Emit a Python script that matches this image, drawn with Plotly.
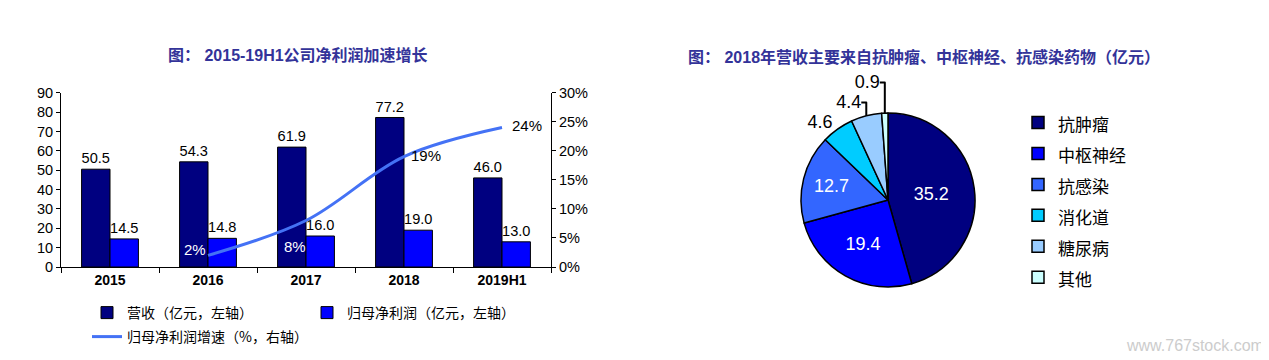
import plotly.graph_objects as go

# ---------------- data ----------------
years = ["2015", "2016", "2017", "2018", "2019H1"]
revenue = [50.5, 54.3, 61.9, 77.2, 46.0]
net_profit = [14.5, 14.8, 16.0, 19.0, 13.0]
growth_years = ["2016", "2017", "2018", "2019H1"]
growth_pct = [2, 8, 19, 24]

pie_labels = ["抗肿瘤", "中枢神经", "抗感染", "消化道", "糖尿病", "其他"]
pie_values = [35.2, 19.4, 12.7, 4.6, 4.4, 0.9]

left_ticks = [0, 10, 20, 30, 40, 50, 60, 70, 80, 90]
right_ticks = [0, 5, 10, 15, 20, 25, 30]
right_tick_text = ["0%", "5%", "10%", "15%", "20%", "25%", "30%"]

title_left = "图： 2015-19H1公司净利润加速增长"
title_right = "图： 2018年营收主要来自抗肿瘤、中枢神经、抗感染药物（亿元）"
name_rev = "营收（亿元，左轴）"
name_np = "归母净利润（亿元，左轴）"
name_gr = "归母净利润增速（%，右轴）"

# ---------------- style ----------------
W, H = 1269, 360
OFF = 8  # default body margin of the html page
FONT = "Arial, Liberation Sans, Noto Sans CJK SC, sans-serif"
CJK = "Noto Sans CJK SC, sans-serif"
TITLE_COLOR = "#333399"
pie_colors = ["#000080", "#0000FF", "#3366FF", "#00CCFF", "#99CCFF", "#CCFFFF"]

# label offsets (pixels) of the growth-rate labels relative to their points
growth_label_shift = [(-13, 6), (-11, -26), (22, 1), (25, 2)]
growth_label_color = ["white", "white", "black", "black"]


def px_x(p):
    return (p - OFF) / W


def px_y(p):
    return (H - (p - OFF)) / H


fig = go.Figure()

fig.add_trace(go.Bar(
    x=years, y=revenue, name=name_rev, legend="legend",
    marker=dict(color="#000080", line=dict(color="black", width=1)),
    texttemplate="%{y:.1f}", textposition="outside",
    textfont=dict(size=15, color="black", family=FONT),
    cliponaxis=False, hoverinfo="skip",
))
fig.add_trace(go.Bar(
    x=years, y=net_profit, name=name_np, legend="legend2",
    marker=dict(color="#0000FF", line=dict(color="black", width=1)),
    texttemplate="%{y:.1f}", textposition="outside",
    textfont=dict(size=15, color="black", family=FONT),
    cliponaxis=False, hoverinfo="skip",
))
fig.add_trace(go.Scatter(
    x=growth_years, y=growth_pct, name=name_gr, legend="legend3",
    yaxis="y2", mode="lines",
    line=dict(color="#4472F5", width=3, shape="spline", smoothing=1),
    cliponaxis=False, hoverinfo="skip",
))

fig.add_trace(go.Pie(
    labels=[f'<span style="font-size:17px">{l}</span>' for l in pie_labels],
    values=pie_values, legend="legend4",
    sort=False, direction="clockwise", rotation=0,
    marker=dict(colors=pie_colors, line=dict(color="black", width=1.5)),
    texttemplate="%{value:.1f}", textinfo="value",
    textposition=["inside", "inside", "inside", "outside", "outside", "outside"],
    insidetextorientation="horizontal",
    insidetextfont=dict(size=18, color="white", family=FONT),
    outsidetextfont=dict(size=18, color="black", family=FONT),
    domain=dict(x=[px_x(801), px_x(975)], y=[px_y(287), px_y(113)]),
    hoverinfo="skip",
))

axis_common = dict(showgrid=False, zeroline=False, showline=True, linecolor="black",
                   linewidth=1, ticks="outside", tickcolor="black", ticklen=4,
                   tickfont=dict(size=14.5, color="black", family=FONT))

# growth labels placed at the category index of each point (category axis)
annotations = [
    dict(text=f"{v}%", x=years.index(yr), y=v, xref="x", yref="y2", showarrow=False,
         xshift=s[0], yshift=s[1], xanchor="center", yanchor="middle",
         font=dict(size=15, color=c, family=FONT))
    for yr, v, s, c in zip(growth_years, growth_pct, growth_label_shift, growth_label_color)
]
annotations += [
    dict(text=f"<b>{title_left}</b>", x=px_x(298), y=px_y(55), xref="paper", yref="paper",
         showarrow=False, xanchor="center", yanchor="middle",
         font=dict(size=16, color=TITLE_COLOR, family=FONT)),
    dict(text=f"<b>{title_right}</b>", x=px_x(924), y=px_y(57), xref="paper", yref="paper",
         showarrow=False, xanchor="center", yanchor="middle",
         font=dict(size=16, color=TITLE_COLOR, family=FONT)),
    dict(text="www.767stock.com", x=px_x(1266), y=px_y(345), xref="paper", yref="paper",
         showarrow=False, xanchor="right", yanchor="middle",
         font=dict(size=16, color="#cccccc", family=FONT)),
]

fig.update_layout(
    width=W, height=H, margin=dict(l=0, r=0, t=0, b=0, autoexpand=False),
    paper_bgcolor="white", plot_bgcolor="white",
    font=dict(family=FONT, color="black"),
    barmode="group", bargap=0.42, bargroupgap=0,
    xaxis=dict(domain=[px_x(61), px_x(551)], type="category",
               categoryorder="array", categoryarray=years,
               range=[-0.5, len(years) - 0.5],
               tickson="boundaries", ticklen=5,
               showgrid=False, zeroline=False, showline=True, linecolor="black",
               ticks="outside", tickcolor="black",
               tickfont=dict(size=14, color="black", family=FONT, weight="bold")),
    yaxis=dict(domain=[px_y(267), px_y(92.7)], range=[0, 90], tickmode="array",
               tickvals=left_ticks, **axis_common),
    yaxis2=dict(overlaying="y", side="right", anchor="x", range=[0, 30],
                tickmode="array", tickvals=right_ticks, ticktext=right_tick_text,
                **axis_common),
    showlegend=True,
    legend=dict(x=px_x(87), y=px_y(313), xanchor="left", yanchor="middle",
                orientation="h", font=dict(size=14, family=CJK), bgcolor="rgba(0,0,0,0)"),
    legend2=dict(x=px_x(307), y=px_y(313), xanchor="left", yanchor="middle",
                 orientation="h", font=dict(size=14, family=CJK), bgcolor="rgba(0,0,0,0)"),
    legend3=dict(x=px_x(87), y=px_y(337), xanchor="left", yanchor="middle",
                 orientation="h", font=dict(size=14, family=CJK), bgcolor="rgba(0,0,0,0)"),
    legend4=dict(x=px_x(1018), y=px_y(102), xanchor="left", yanchor="top",
                 orientation="v", font=dict(size=21.5, family=CJK), bgcolor="rgba(0,0,0,0)"),
    annotations=annotations,
)

fig.write_html("out.html")
